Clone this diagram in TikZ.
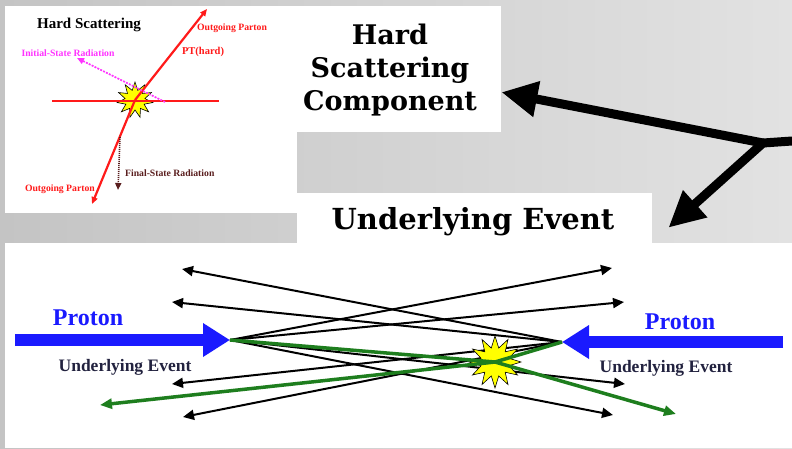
\documentclass[tikz,border=0pt]{standalone}
\usepackage{fontspec}
\setmainfont{Liberation Serif}
\newfontfamily\headfont{DejaVu Serif}
\usetikzlibrary{arrows.meta,shapes.geometric}

\definecolor{bgdark}{HTML}{C4C4C4}
\definecolor{bglight}{HTML}{E2E2E2}
\definecolor{partonred}{HTML}{FF1A1A}
\definecolor{israd}{HTML}{FF33FF}
\definecolor{fsrad}{HTML}{5A1E1E}
\definecolor{protonblue}{HTML}{1A1AFF}
\definecolor{uegreen}{HTML}{1E7E1E}
\definecolor{labelnavy}{HTML}{22223F}
\definecolor{burstyellow}{HTML}{FFFF00}

\tikzset{
  panel/.style={fill=white, draw=none, inner sep=0pt, anchor=north west},
  headtxt/.style={font=\headfont\bfseries\fontsize{27}{33}\selectfont, align=center, text=black, inner sep=0pt},
  bigarrow/.style={line width=9pt, -{Triangle[length=36pt,width=34pt]}},
  partonline/.style={partonred, line width=2.2pt},
  partonarrow/.style={partonline, -{Triangle[length=7pt,width=6pt]}},
  israrrow/.style={israd, line width=1.6pt, dash pattern=on 2pt off 1.2pt, -{Triangle[length=7pt,width=6pt]}},
  fsrarrow/.style={fsrad, line width=1.6pt, dash pattern=on 1pt off 1pt, -{Triangle[length=7pt,width=6pt]}},
  smalllabel/.style={font=\bfseries\fontsize{9.7}{11}\selectfont, inner sep=0pt},
  protonarrow/.style={protonblue, line width=12pt, -{Triangle[length=27pt,width=32pt]}},
  protonlabel/.style={protonblue, font=\bfseries\fontsize{24}{28}\selectfont, inner sep=0pt},
  uelabel/.style={labelnavy, font=\bfseries\fontsize{17.5}{20}\selectfont, inner sep=0pt},
  ueline/.style={black, line width=2pt, -{Triangle[length=11pt,width=10pt]}},
  hardline/.style={uegreen, line width=3.5pt, line join=round, -{Triangle[length=12pt,width=10pt]}},
  burst/.style={star, star points=12, star point ratio=1.8, fill=burstyellow, draw=black, line width=0.6pt, inner sep=0pt}
}

\begin{document}
\begin{tikzpicture}[x=1pt, y=-1pt]
  \useasboundingbox (0,0) rectangle (792,448);
  \shade[left color=bgdark, right color=bglight] (0,0) rectangle (792,448);

  % white panels
  \node[panel, minimum width=292pt, minimum height=207pt] (hsdiag) at (5,6) {};
  \node[panel, minimum width=204pt, minimum height=126pt] (hsbox) at (297,6) {};
  \node[panel, minimum width=355pt, minimum height=51pt] (uebox) at (297,193) {};
  \node[panel, minimum width=787pt, minimum height=205pt] (uediag) at (5,243) {};

  % headings
  \node[headtxt] (hstitle) at (390,70) {Hard\\Scattering\\Component};
  \node[headtxt, font=\headfont\bfseries\fontsize{29}{33}\selectfont] (uetitle) at (473,222) {Underlying Event};

  % thick pointer arrows
  \coordinate (stem) at (792,141);
  \coordinate (junc) at (763,143);
  \coordinate (hsin) at ([yshift=-23pt]hsbox.east);
  \coordinate (uein) at ([xshift=16pt,yshift=-9pt]uebox.east);
  \draw[line width=9pt, line cap=round] (stem) -- (junc);
  \draw[bigarrow] (junc) -- (hsin);
  \draw[bigarrow] (junc) -- (uein);

  % ---- hard scattering sketch ----
  \node[font=\bfseries\fontsize{15}{17}\selectfont, inner sep=0pt] (hstag) at (89,25) {Hard Scattering};
  \node[burst, star points=11, minimum size=36pt] (hsstar) at (135,100) {};
  \coordinate (beamL) at (52,101);
  \coordinate (beamR) at (219,101);
  \coordinate (outUp) at (207,9);
  \coordinate (outDown) at (92,204);
  \coordinate (isrStart) at (165,102);
  \coordinate (isrEnd) at (77,58);
  \coordinate (fsrStart) at (120,137);
  \coordinate (fsrEnd) at (118,190);
  \draw[partonline] (beamL) -- (beamR);
  \draw[partonarrow] (hsstar.center) -- (outUp);
  \draw[partonarrow] (hsstar.center) -- (outDown);
  \draw[israrrow] (isrStart) -- (isrEnd);
  \draw[fsrarrow] (fsrStart) -- (fsrEnd);
  \node[smalllabel, partonred] (outUpLbl) at (232,28) {Outgoing Parton};
  \node[smalllabel, partonred, font=\bfseries\fontsize{10.5}{12}\selectfont] (ptLbl) at (203,52) {PT(hard)};
  \node[smalllabel, israd] (isrLbl) at (68,53) {Initial-State Radiation};
  \node[smalllabel, fsrad, anchor=west] (fsrLbl) at (125,173) {Final-State Radiation};
  \node[smalllabel, partonred, anchor=east] (outDownLbl) at (95,189) {Outgoing Parton};

  % ---- underlying event sketch ----
  \coordinate (lpstart) at (15,340);
  \coordinate (lp) at (230,340);
  \coordinate (rpstart) at (783,342);
  \coordinate (rp) at (562,342);
  % fragments heading left (from the right-hand proton)
  \coordinate (a1) at (182,269);
  \coordinate (a2) at (172,302);
  \coordinate (a3) at (172,384);
  \coordinate (a4) at (183,417);
  % fragments heading right (from the left-hand proton)
  \coordinate (b1) at (612,268);
  \coordinate (b2) at (624,302);
  \coordinate (b3) at (625,384);
  \coordinate (b4) at (613,415);
  % outgoing hard partons
  \coordinate (gL) at (100,405);
  \coordinate (gR) at (676,414);

  \foreach \t in {a1,a2,a3,a4} \draw[ueline] (rp) -- (\t);
  \foreach \t in {b1,b2,b3,b4} \draw[ueline] (lp) -- (\t);

  \draw[protonarrow] (lpstart) -- (lp);
  \draw[protonarrow] (rpstart) -- (rp);

  \node[burst, minimum size=52pt] (collision) at (495,362) {};
  \draw[hardline] (lp) -- (collision.center) -- (gR);
  \draw[hardline] (rp) -- (collision.center) -- (gL);

  \node[protonlabel] (protonL) at (88,318) {Proton};
  \node[protonlabel] (protonR) at (680,322) {Proton};
  \node[uelabel] (ueL) at (125,367) {Underlying Event};
  \node[uelabel] (ueR) at (666,368) {Underlying Event};
\end{tikzpicture}
\end{document}
